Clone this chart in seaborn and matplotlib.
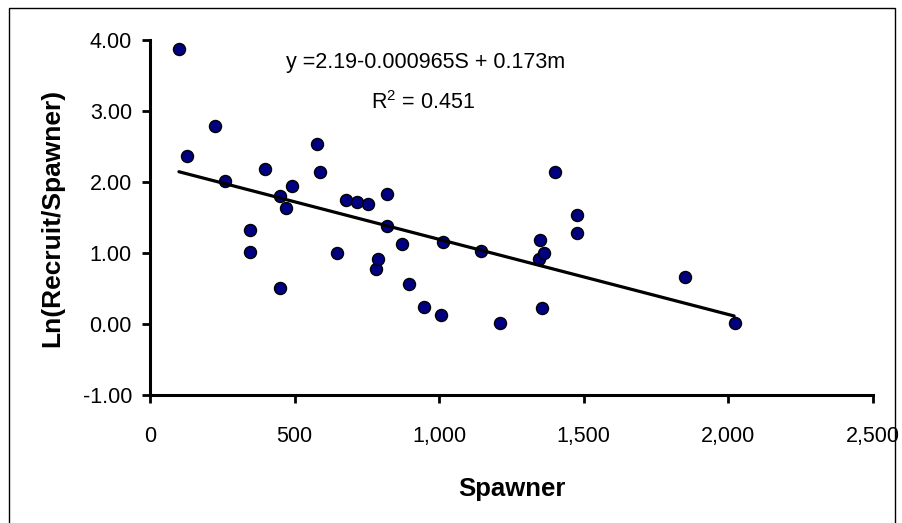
import matplotlib
matplotlib.use("Agg")
import matplotlib.pyplot as plt
import seaborn as sns
import pandas as pd
from matplotlib.patches import Rectangle
from matplotlib.ticker import FuncFormatter

# --- data ---
spawner = [100, 128, 226, 260, 345, 345, 399, 449, 449, 469, 491, 579, 589,
           645, 679, 715, 755, 783, 789, 819, 819, 873, 895, 949, 1008, 1014,
           1144, 1210, 1348, 1346, 1362, 1354, 1402, 1478, 1478, 1849, 2023]
ln_rs = [3.88, 2.36, 2.79, 2.01, 1.32, 1.01, 2.19, 1.81, 0.51, 1.64, 1.94,
         2.54, 2.14, 1.00, 1.75, 1.72, 1.69, 0.77, 0.91, 1.83, 1.38, 1.13,
         0.57, 0.24, 0.13, 1.16, 1.03, 0.01, 1.19, 0.91, 1.00, 0.23, 2.14,
         1.53, 1.28, 0.66, 0.01]

# fitted trend line (end points)
fit_x = [100, 2020]
fit_y = [2.145, 0.113]

x_ticks = [0, 500, 1000, 1500, 2000, 2500]
y_ticks = [-1, 0, 1, 2, 3, 4]

equation = "y =2.19-0.000965S + 0.173m"
r2_label = "R$^2$ = 0.451"

df = pd.DataFrame({"Spawner": spawner, "LnRS": ln_rs})
df_fit = pd.DataFrame({"Spawner": fit_x, "LnRS": fit_y})

sns.set_style("white")
plt.rcParams["font.family"] = ["Liberation Sans", "DejaVu Sans"]
plt.rcParams["mathtext.fontset"] = "custom"
plt.rcParams["mathtext.rm"] = "Liberation Sans"
plt.rcParams["mathtext.it"] = "Liberation Sans"
plt.rcParams["text.color"] = "black"
plt.rcParams["axes.labelcolor"] = "black"

fig = plt.figure(figsize=(9.02, 5.23), dpi=100)
ax = fig.add_axes([0.1663, 0.2447, 0.8015, 0.6788])

sns.scatterplot(data=df, x="Spawner", y="LnRS", ax=ax, s=75,
                color="#000080", edgecolor="black", linewidth=1, zorder=3)
sns.lineplot(data=df_fit, x="Spawner", y="LnRS", ax=ax, color="black",
             linewidth=2.3, zorder=4)

ax.set_xlim(0, 2500)
ax.set_ylim(-1, 4)
ax.set_xticks(x_ticks)
ax.set_yticks(y_ticks)
ax.xaxis.set_major_formatter(FuncFormatter(lambda v, p: f"{int(v):,}"))
ax.yaxis.set_major_formatter(FuncFormatter(lambda v, p: f"{v:.2f}"))

for side in ["top", "right"]:
    ax.spines[side].set_visible(False)
for side in ["left", "bottom"]:
    ax.spines[side].set_linewidth(2.2)
    ax.spines[side].set_color("black")

ax.tick_params(axis="both", direction="out", length=6, width=2, colors="black",
               labelsize=15.5, left=True, bottom=True)
ax.tick_params(axis="x", pad=16)
ax.tick_params(axis="y", pad=7)

ax.set_xlabel("Spawner", fontsize=18.5, fontweight="bold", labelpad=22)
ax.set_ylabel("Ln(Recruit/Spawner)", fontsize=19, fontweight="bold", labelpad=13)

ax.text(0.381, 0.938, equation, transform=ax.transAxes, ha="center",
        va="center", fontsize=15.5)
ax.text(0.378, 0.823, r2_label, transform=ax.transAxes, ha="center",
        va="center", fontsize=15.5)

# outer chart border
fig.add_artist(Rectangle((9 / 902, -0.01), (895 - 9) / 902, 1 - 8 / 523 + 0.01,
                         transform=fig.transFigure, fill=False, lw=1,
                         edgecolor="black"))

fig.savefig("out.png", dpi=100)
